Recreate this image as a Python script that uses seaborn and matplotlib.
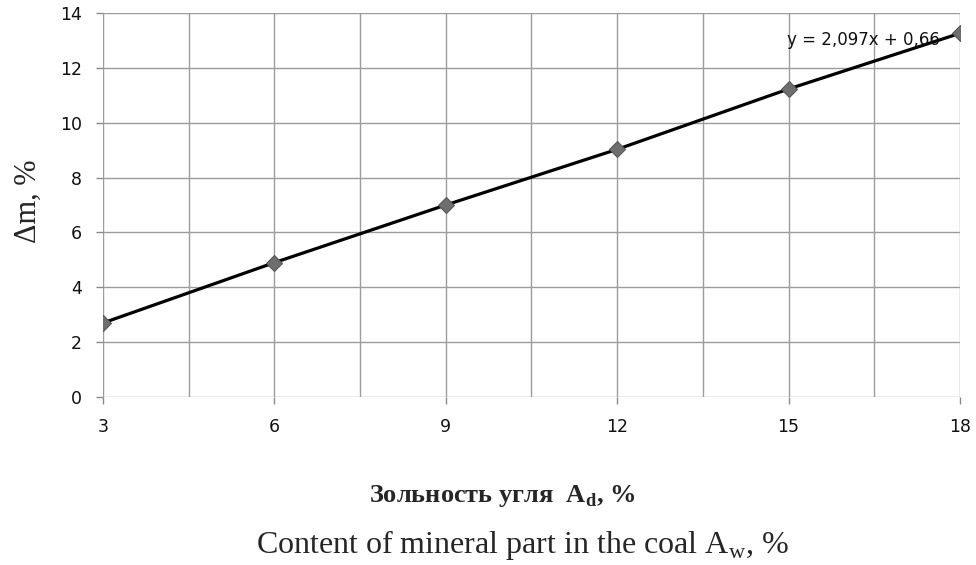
import matplotlib
matplotlib.use("Agg")
import matplotlib.pyplot as plt
import pandas as pd
import seaborn as sns
from matplotlib.ticker import MultipleLocator

# data
zolnost = [3, 6, 9, 12, 15, 18]
delta_m = [2.70, 4.90, 7.00, 9.03, 11.23, 13.26]
x_ticks = [3, 6, 9, 12, 15, 18]
y_ticks = [0, 2, 4, 6, 8, 10, 12, 14]
uravnenie = "y = 2,097x + 0,66"

df = pd.DataFrame({"zolnost": zolnost, "delta_m": delta_m})

sns.set_theme(style="whitegrid")
plt.rcParams["font.family"] = ["DejaVu Sans"]
plt.rcParams["mathtext.fontset"] = "custom"
plt.rcParams["mathtext.rm"] = "Liberation Serif"
plt.rcParams["mathtext.bf"] = "Liberation Serif:bold"

fig = plt.figure(figsize=(9.76, 5.65), dpi=100)
ax = fig.add_axes([0.1055, 0.2973, 0.8781, 0.6797])

sns.lineplot(
    data=df,
    x="zolnost",
    y="delta_m",
    color="black",
    linewidth=2.3,
    marker="D",
    markersize=8,
    markerfacecolor="#6e6e6e",
    markeredgecolor="#555555",
    ax=ax
)

ax.set_xlim(3, 18)
ax.set_ylim(0, 14)
ax.set_xticks(x_ticks)
ax.set_yticks(y_ticks)
ax.xaxis.set_minor_locator(MultipleLocator(1.5))

ax.grid(which="major", color="#9c9c9c", linewidth=1.0, linestyle="-")
ax.grid(which="minor", axis="x", color="#9c9c9c", linewidth=1.0, linestyle="-")
ax.tick_params(axis="both", which="major", length=5, width=1, color="#8a8a8a",
               pad=10, labelsize=12.5, labelcolor="#111111",
               bottom=True, left=True)
ax.tick_params(axis="x", which="minor", length=0)
for s in ax.spines.values():
    s.set_visible(False)
ax.set_xlabel("")
ax.set_ylabel("")

ax.text(14.98, 13.0, uravnenie, fontsize=12, ha="left", va="center",
        color="#111111")

fig.text(0.029, 0.644, "Δm, %", rotation=90, ha="center", va="center",
         fontsize=22, family="Liberation Serif")
fig.text(0.515, 0.122, r"Зольность угля  A$_{\mathbf{d}}$, %", ha="center",
         va="center", fontsize=19, fontweight="bold", family="Liberation Serif")
fig.text(0.535, 0.035, r"Content of mineral part in the coal A$_\mathrm{w}$, %",
         ha="center", va="center", fontsize=23, family="Liberation Serif")

fig.savefig("out.png", dpi=100)
